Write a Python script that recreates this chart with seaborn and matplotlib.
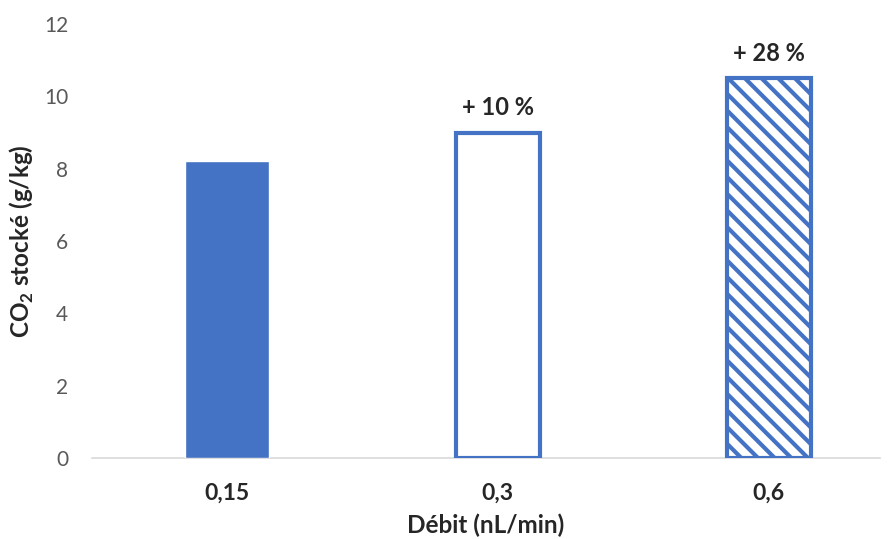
import matplotlib
matplotlib.use("Agg")
import matplotlib.pyplot as plt
import seaborn as sns
import pandas as pd

# data
debit = ["0,15", "0,3", "0,6"]
co2 = [8.2, 9.0, 10.5]
gain = ["", "+ 10 %", "+ 28 %"]

blue = "#4472C4"

sns.set_style("white")
plt.rcParams["font.family"] = ["Lato", "DejaVu Sans"]
plt.rcParams["mathtext.fontset"] = "custom"
plt.rcParams["mathtext.bf"] = "Lato:bold"
plt.rcParams["mathtext.rm"] = "Lato"
plt.rcParams["hatch.linewidth"] = 3.0

df = pd.DataFrame({"debit": debit, "co2": co2})

fig = plt.figure(figsize=(8.89, 5.39), dpi=100)
ax = fig.add_axes([0.1035, 0.150, 0.886, 0.8055])

sns.barplot(data=df, x="debit", y="co2", order=debit, color=blue,
            width=0.31, saturation=1, ax=ax)

bars = ax.patches
# bar 2: outline only, bar 3: hatched
for b in bars[1:]:
    b.set_facecolor("white")
    b.set_edgecolor(blue)
    b.set_linewidth(3)
bars[2].set_hatch("\\\\")

for b, txt in zip(bars, gain):
    if txt:
        ax.annotate(txt, (b.get_x() + b.get_width() / 2, b.get_height()),
                    xytext=(0, 18), textcoords="offset points",
                    ha="center", va="center", fontsize=17, fontweight="bold")

ax.set_ylim(0, 12)
ax.set_yticks(range(0, 13, 2))
ax.set_xlim(-0.498, 2.41)

for s in ["top", "right", "left"]:
    ax.spines[s].set_visible(False)
ax.spines["bottom"].set_color("#D9D9D9")
ax.spines["bottom"].set_linewidth(1.2)
ax.spines["bottom"].set_zorder(0)

ax.tick_params(axis="y", length=0, pad=17, labelsize=15, labelcolor="#595959")
ax.tick_params(axis="x", length=0, pad=18, labelsize=16.5)
for lab in ax.get_xticklabels():
    lab.set_fontweight("bold")

ax.set_xlabel("Débit (nL/min)", fontsize=17.5, fontweight="bold", labelpad=7)
ax.set_ylabel(r"CO$_\mathbf{2}$ stocké (g/kg)", fontsize=17.5, fontweight="bold",
              labelpad=6)

fig.savefig("out.png", dpi=100)
